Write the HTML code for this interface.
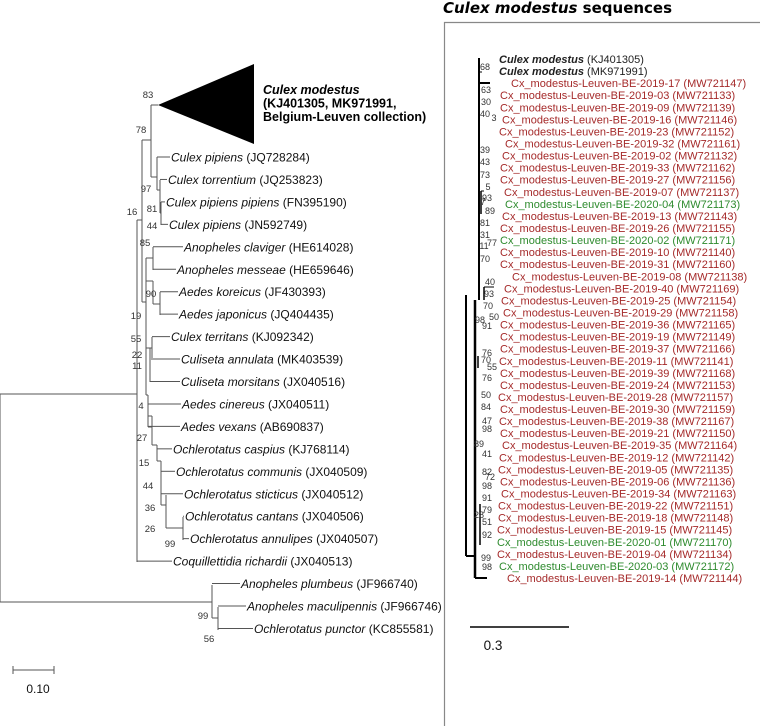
<!DOCTYPE html>
<html><head><meta charset="utf-8"><style>
html,body{margin:0;padding:0;background:#fff;}
svg{display:block;font-family:"Liberation Sans","DejaVu Sans",sans-serif;}
</style></head><body>
<svg id="fig" width="760" height="726" viewBox="0 0 760 726" xmlns="http://www.w3.org/2000/svg">
<g id="left"></g>
<g id="right"></g>
</svg>
<script>
// ---- Left tree data ----
const leftSpecies = ["Culex pipiens","Culex torrentium","Culex pipiens pipiens","Culex pipiens","Anopheles claviger","Anopheles messeae","Aedes koreicus","Aedes japonicus","Culex territans","Culiseta annulata","Culiseta morsitans","Aedes cinereus","Aedes vexans","Ochlerotatus caspius","Ochlerotatus communis","Ochlerotatus sticticus","Ochlerotatus cantans","Ochlerotatus annulipes","Coquillettidia richardii","Anopheles plumbeus","Anopheles maculipennis","Ochlerotatus punctor"];
const leftAccessions = ["JQ728284","JQ253823","FN395190","JN592749","HE614028","HE659646","JF430393","JQ404435","KJ092342","MK403539","JX040516","JX040511","AB690837","KJ768114","JX040509","JX040512","JX040506","JX040507","JX040513","JF966740","JF966746","KC855581"];
const leftTipStart = [157,160,161,161,153,153,160,160,152,153,150,148,148,157,161,161,183,183,137,212,218,218];
const leftTipEnd = [170,167,165,168,183,176,178,178,170,180,180,181,180,172,175,183,184,189,172,240,246,253];
const leftSupport = ["83","78","97","81","16","44","85","90","19","55","22","11","4","27","15","44","36","26","99","99","56"];
const leftSupportPos = [[148,95],[141,130],[146,189],[152,209],[132,212],[152,226],[145,243],[151,294],[136,316],[136,339],[137,355],[137,366],[141,406],[142,438],[144,463],[148,486],[150,508],[150,529],[170,544],[203,616],[209,639]];
// ---- Right panel data ----
const rightLabels = ["KJ401305","MK971991","2019-17 (MW721147)","2019-03 (MW721133)","2019-09 (MW721139)","2019-16 (MW721146)","2019-23 (MW721152)","2019-32 (MW721161)","2019-02 (MW721132)","2019-33 (MW721162)","2019-27 (MW721156)","2019-07 (MW721137)","2020-04 (MW721173)","2019-13 (MW721143)","2019-26 (MW721155)","2020-02 (MW721171)","2019-10 (MW721140)","2019-31 (MW721160)","2019-08 (MW721138)","2019-40 (MW721169)","2019-25 (MW721154)","2019-29 (MW721158)","2019-36 (MW721165)","2019-19 (MW721149)","2019-37 (MW721166)","2019-11 (MW721141)","2019-39 (MW721168)","2019-24 (MW721153)","2019-28 (MW721157)","2019-30 (MW721159)","2019-38 (MW721167)","2019-21 (MW721150)","2019-35 (MW721164)","2019-12 (MW721142)","2019-05 (MW721135)","2019-06 (MW721136)","2019-34 (MW721163)","2019-22 (MW721151)","2019-18 (MW721148)","2019-15 (MW721145)","2020-01 (MW721170)","2019-04 (MW721134)","2020-03 (MW721172)","2019-14 (MW721144)"];
const rightLabelX = [499,499,511,500,500,502,499,505,502,500,500,504,505,502,500,500,500,500,512,504,501,503,500,500,500,499,500,500,498,500,499,500,502,499,498,500,501,498,498,497,497,497,499,507];
const rightSupport = ["68","63","30","40","3","39","43","73","5","93","7","89","81","31","11","77","70","40","93","70","98","50","91","76","70","55","76","50","84","47","98","89","41","82","72","98","91","79","28","51","92","99","98"];
const rightSupportPos = [[485,67],[486,90],[486,102],[485,114],[494,118],[485,150],[485,162],[485,175],[488,187],[487,198],[483,202],[490,211],[485,223],[485,235],[484,246],[492,243],[485,259],[490,282],[489,294],[488,306],[480,320],[494,317],[487,326],[487,353],[486,360],[492,367],[487,378],[486,395],[486,407],[487,421],[487,429],[479,444],[487,454],[487,472],[490,477],[487,486],[487,498],[487,510],[479,515],[487,522],[487,535],[486,558],[487,567]];

const NS="http://www.w3.org/2000/svg";
function mk(tag, attrs, parent){const e=document.createElementNS(NS,tag);for(const k in attrs)e.setAttribute(k,attrs[k]);parent.appendChild(e);return e;}
const L=document.getElementById('left'), R=document.getElementById('right');
const rowY = i => 157 + i*22.45;
function seg(g,x1,y1,x2,y2,c,w){const l=mk('line',{x1:x1,y1:y1,x2:x2,y2:y2,stroke:c,'stroke-width':w},g);return l;}

const lc="#555";
[[0,394,137,394],[0,394,0,602],[0,602,212,602],
[137,220,137,562],[137,220,142,220],[142,140,142,302],[142,140,151,140],[151,105,151,177],[151,105,158,105],[151,177,157,177],
[157,157,157,190],[157,190,160,190],[160,180,160,213],[160,213,161,213],[161,202,161,225],
[142,302,146,302],[146,258,146,395],[146,258,153,258],[153,247,153,270],[146,281,153,281],[153,281,153,304],[153,304,160,304],[160,292,160,315],
[146,348,150,348],[150,348,150,382],[150,348,152,348],[152,337,152,360],
[146,395,148,395],[148,395,148,427],[148,416,152,416],[152,416,152,427],[152,427,148,427],[152,416,152,445],[152,445,157,445],[157,445,157,461],[157,461,161,461],[161,461,161,505],[161,505,166,505],[166,495,166,528],[166,528,183,528],[183,517,183,540],
[212,585,212,618],[212,618,218,618],[218,607,218,630]
].forEach(s=>seg(L,s[0],s[1],s[2],s[3],lc,1));
const tri=mk('polygon',{points:"158,105 254,64 254,144",fill:"#000"},L);


const ct=mk('text',{x:263,y:94,'font-size':12.5,'font-weight':'bold',fill:'#000'},L);
ct.innerHTML='<tspan font-style="italic">Culex modestus</tspan><tspan x="263" dy="13.5">(KJ401305, MK971991,</tspan><tspan x="263" dy="13.5">Belgium-Leuven collection)</tspan>';


leftSpecies.forEach((sp,i)=>{
  const y=rowY(i);
  seg(L,leftTipStart[i],y,leftTipEnd[i],y,lc,1);
  const t=mk('text',{x:leftTipEnd[i]+1,y:y+4.5,'font-size':12,fill:'#111'},L);
  t.innerHTML='<tspan font-style="italic">'+sp+'</tspan> ('+leftAccessions[i]+')';
  
  
});
leftSupport.forEach((s,i)=>{
  const t=mk('text',{x:leftSupportPos[i][0],y:leftSupportPos[i][1]+3,'font-size':9.5,fill:'#333','text-anchor':'middle'},L);
  t.textContent=s;
  
  
});
seg(L,13,670,54,670,lc,1);seg(L,13,666,13,674,lc,1);seg(L,54,666,54,674,lc,1);
const sl=mk('text',{x:38,y:693,'font-size':12,fill:'#111','text-anchor':'middle'},L);
sl.textContent='0.10';



const title=mk('text',{x:443,y:13,'font-size':15,'font-weight':'bold',fill:'#000','font-family':'DejaVu Sans, sans-serif'},R);
title.innerHTML='<tspan font-style="italic">Culex modestus</tspan> sequences';


const box=mk('path',{d:"M444.5,726 L444.5,22.5 L760,22.5",fill:"none",stroke:"#888",'stroke-width':1.2},R);


const rRow = i => 59 + i*12.07;
[[479,58,479,300,2],[466,295,466,556,2],[466,556,475,556,2],[475,300,475,578,2.5],[475,578,487,578,2],[479,83,490,83,2],[479,72,482,72,1],
[481,191,481,214,1.5],[481,191,484,191,1],[484,287,484,300,1.5],[484,287,494,287,1],[478,356,478,368,1.5],[480,504,480,545,1.5]
].forEach(s=>seg(R,s[0],s[1],s[2],s[3],"#000",s[4]));
rightLabels.forEach((lb,i)=>{
  const y=rRow(i);
  const t=mk('text',{x:rightLabelX[i],y:y+4,'font-size':11},R);
  if(i<2){t.setAttribute('fill','#222');t.innerHTML='<tspan font-weight="bold" font-style="italic">Culex modestus</tspan> ('+lb+')';}
  else{const green=lb.startsWith('2020');t.setAttribute('fill',green?'#2e8b2e':'#a52a2a');t.textContent='Cx_modestus-Leuven-BE-'+lb;}
  
  
});
rightSupport.forEach((s,i)=>{
  const t=mk('text',{x:rightSupportPos[i][0],y:rightSupportPos[i][1]+3,'font-size':9,fill:'#333','text-anchor':'middle'},R);
  t.textContent=s;
  
  
});
seg(R,470,627,569,627,"#000",1.5);
const rs=mk('text',{x:493,y:650,'font-size':13.5,fill:'#111','text-anchor':'middle'},R);
rs.textContent='0.3';


</script>
</body></html>
